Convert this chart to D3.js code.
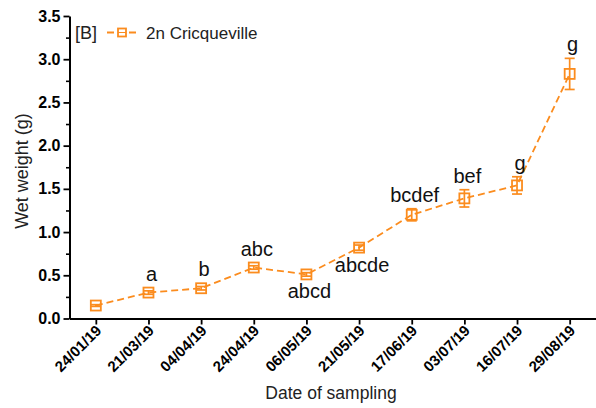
<!DOCTYPE html>
<html>
<head>
<meta charset="utf-8">
<script src="https://cdn.jsdelivr.net/npm/d3@7"></script>
<style>
  html, body { margin: 0; padding: 0; background: #fff; }
  svg { display: block; font-family: Arial, "Liberation Sans", sans-serif; }
</style>
</head>
<body>
<svg id="chart" width="596" height="408"></svg>
<script>
// Sampling dates (categories)
const dates = ["24/01/19", "21/03/19", "04/04/19", "24/04/19", "06/05/19",
               "21/05/19", "17/06/19", "03/07/19", "16/07/19", "29/08/19"];
// Mean wet weight (g) and its error
const meanWeight = [0.15, 0.30, 0.35, 0.59, 0.51, 0.82, 1.20, 1.39, 1.54, 2.83];
const errWeight  = [0.01, 0.02, 0.02, 0.02, 0.02, 0.03, 0.07, 0.10, 0.10, 0.18];
// Statistical group letters and which side of the point they sit on
const groupLetters = ["", "a", "b", "abc", "abcd", "abcde", "bcdef", "bef", "g", "g"];
const letterSide   = ["", "above", "above", "above", "below", "below", "above", "above", "above", "above"];
// Y axis ticks
const yMajorTicks = [0.0, 0.5, 1.0, 1.5, 2.0, 2.5, 3.0, 3.5];
const yMinorTicks = [0.25, 0.75, 1.25, 1.75, 2.25, 2.75, 3.25];
const seriesName = "2n Cricqueville";
const panelTag = "[B]";

const orange = "#fb8c1e";
const svg = d3.select("#chart");

const plotLeft = 69.5, plotRight = 596, plotTop = 16, plotBottom = 318.5;

const x = d3.scalePoint().domain(dates).range([plotLeft, plotRight]).padding(0.5);
const y = d3.scaleLinear().domain([0, 3.5]).range([plotBottom, plotTop]);

// ---- Y axis ----
const yAxis = svg.append("g").attr("transform", `translate(${plotLeft},0)`)
  .call(d3.axisLeft(y).tickValues(yMajorTicks).tickFormat(d3.format(".1f"))
        .tickSize(6).tickPadding(3).tickSizeOuter(0));
yAxis.select(".domain").attr("stroke", "#000").attr("stroke-width", 2);
yAxis.selectAll(".tick line").attr("stroke", "#000").attr("stroke-width", 1.8);
yAxis.selectAll(".tick text").attr("font-size", 16).attr("font-weight", "bold")
  .attr("fill", "#000").attr("font-family", "Arial, 'Liberation Sans', sans-serif");
svg.append("g").attr("transform", `translate(${plotLeft},0)`)
  .call(d3.axisLeft(y).tickValues(yMinorTicks).tickFormat("").tickSize(3.5).tickSizeOuter(0))
  .call(g => g.select(".domain").remove())
  .selectAll(".tick line").attr("stroke", "#000").attr("stroke-width", 1.6);

// ---- X axis ----
const xAxis = svg.append("g").attr("transform", `translate(0,${plotBottom})`)
  .call(d3.axisBottom(x).tickSize(6).tickSizeOuter(0));
xAxis.select(".domain").attr("stroke", "#000").attr("stroke-width", 2);
xAxis.selectAll(".tick line").attr("stroke", "#000").attr("stroke-width", 1.8);
xAxis.selectAll(".tick text")
  .attr("font-size", 15).attr("font-weight", "bold").attr("fill", "#000")
  .attr("font-family", "Arial, 'Liberation Sans', sans-serif")
  .attr("text-anchor", "end")
  .attr("dy", null).attr("y", null)
  .attr("transform", "translate(6,13) rotate(-45)");

// ---- Axis titles ----
svg.append("text")
  .attr("transform", "translate(28,171) rotate(-90)")
  .attr("text-anchor", "middle").attr("font-size", 18).attr("fill", "#222")
  .text("Wet weight (g)");
svg.append("text")
  .attr("x", 331).attr("y", 399)
  .attr("text-anchor", "middle").attr("font-size", 17.5).attr("fill", "#222")
  .text("Date of sampling");

// ---- Series ----
const pts = dates.map((d, i) => ({ d, m: meanWeight[i], e: errWeight[i], g: groupLetters[i], s: letterSide[i] }));

svg.append("path")
  .datum(pts)
  .attr("fill", "none").attr("stroke", orange).attr("stroke-width", 1.8)
  .attr("stroke-dasharray", "7,4")
  .attr("d", d3.line().x(p => x(p.d)).y(p => y(p.m)));

const cap = 5;
const eb = svg.append("g").attr("stroke", orange).attr("stroke-width", 1.7).attr("fill", "none");
pts.forEach(p => {
  const cx = x(p.d), yt = y(p.m + p.e), yb = y(p.m - p.e);
  eb.append("line").attr("x1", cx).attr("x2", cx).attr("y1", yt).attr("y2", yb);
  eb.append("line").attr("x1", cx - cap).attr("x2", cx + cap).attr("y1", yt).attr("y2", yt);
  eb.append("line").attr("x1", cx - cap).attr("x2", cx + cap).attr("y1", yb).attr("y2", yb);
});

const sq = 10;
svg.append("g").selectAll("rect").data(pts).join("rect")
  .attr("x", p => x(p.d) - sq / 2).attr("y", p => y(p.m) - sq / 2)
  .attr("width", sq).attr("height", sq)
  .attr("fill", "none").attr("stroke", orange).attr("stroke-width", 1.8);

// ---- Group letters ----
svg.append("g").selectAll("text").data(pts.filter(p => p.g)).join("text")
  .attr("x", p => x(p.d) + 3)
  .attr("y", p => p.s === "above" ? Math.min(y(p.m + p.e), y(p.m) - sq / 2) - 7
                                  : Math.max(y(p.m - p.e), y(p.m) + sq / 2) + 19)
  .attr("text-anchor", "middle").attr("font-size", 20).attr("fill", "#111")
  .text(p => p.g);

// ---- Legend ----
svg.append("text").attr("x", 75).attr("y", 39).attr("font-size", 18).attr("fill", "#222").text(panelTag);
const lg = svg.append("g");
lg.append("line").attr("x1", 107).attr("x2", 137).attr("y1", 32.5).attr("y2", 32.5)
  .attr("stroke", orange).attr("stroke-width", 1.8).attr("stroke-dasharray", "7,4");
lg.append("rect").attr("x", 118).attr("y", 28.5).attr("width", 8).attr("height", 8)
  .attr("fill", "#fff").attr("stroke", orange).attr("stroke-width", 1.8);
lg.append("line").attr("x1", 118).attr("x2", 126).attr("y1", 32.5).attr("y2", 32.5)
  .attr("stroke", orange).attr("stroke-width", 1);
svg.append("text").attr("x", 146).attr("y", 39).attr("font-size", 17).attr("fill", "#222").text(seriesName);
</script>
</body>
</html>
